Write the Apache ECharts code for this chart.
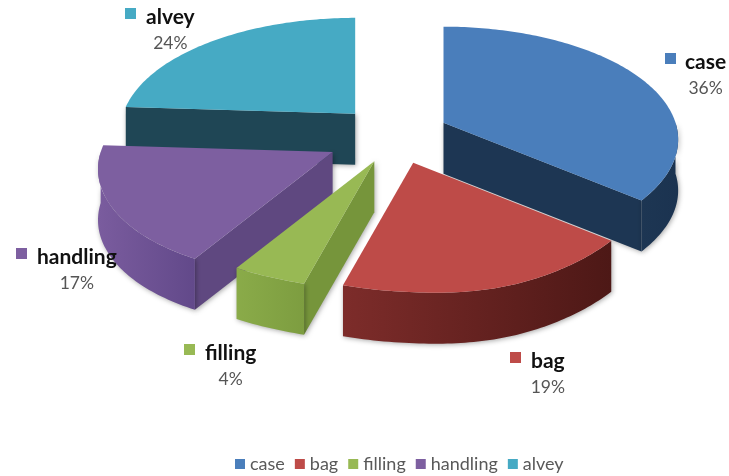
<!DOCTYPE html>
<html><head><meta charset="utf-8">
<style>html,body{margin:0;padding:0;background:#fff}#c{width:729px;height:476px}</style>
<script src="https://cdn.jsdelivr.net/npm/echarts@6/dist/echarts.min.js"></script>
</head><body><div id="c"></div>
<script>
const categories = ['case','bag','filling','handling','alvey'];
const percents = [36,19,4,17,24];
const topColors = ['#4a7ebb','#be4b48','#98b954','#7d5fa0','#46aac4'];
const sideColors = ['#1d3653','#5a1d1b','#76953b','#5f4880','#1f4655'];
const arcColors = [['#1d3653','#1b3350'],['#7d2c2a','#4d1816'],['#8aab49','#7d9d40'],['#7a5c9e','#62498a'],['#1f4655','#1f4655']];
const paintOrder = [2,5,4,3,1];
const explodeFactor = [1,1,1,1.3,1];
const labelSpots = [[665,53],[510,352],[184,344],[16,248],[125,8]];

const P = {cx:395,cy:135,ex:55,ey:29,skew:3,rx:232,ry:110.4,k:0.15,depth:51,warp:21};
const FONT = 'Lato, "Open Sans", sans-serif';
const total = percents.reduce(function(a,b){return a+b;},0);
const starts = []; percents.reduce(function(a,b,i){starts[i]=a;return a+b;},0);
const measure = document.createElement('canvas').getContext('2d');

function sliceGeom(i){
  const a0 = starts[i]/total*2*Math.PI, a1 = (starts[i]+percents[i])/total*2*Math.PI, m=(a0+a1)/2;
  const f = explodeFactor[i];
  const ax = P.cx + P.ex*f*Math.sin(m) - P.skew*Math.cos(m);
  const ay = P.cy - P.ey*f*Math.cos(m);
  function pt(a){
    const u=Math.sin(a), v=-Math.cos(a), w=1-P.k*v;
    return [ax+P.rx*u/w+(v>0?P.warp*Math.pow(v,9):0), ay+P.ry*v/w];
  }
  return {a0,a1,apex:[ax,ay],pt};
}
function down(p){return [p[0],p[1]+P.depth];}

function renderSlice(i){
  return function(params,api){
    const g = sliceGeom(i), kids=[];
    const shadow = {shadowBlur:5,shadowColor:'rgba(0,0,0,0.35)',shadowOffsetX:1,shadowOffsetY:1};
    [[g.a0,-Math.sin(g.a0)],[g.a1,Math.sin(g.a1)]].forEach(function(e){
      if(e[1]>1e-6){
        const p=g.pt(e[0]);
        kids.push({type:'polygon',shape:{points:[g.apex,p,down(p),down(g.apex)]},
          style:Object.assign({fill:sideColors[i]},shadow)});
      }
    });
    const lo=Math.max(g.a0,Math.PI/2), hi=Math.min(g.a1,Math.PI*1.5);
    if(hi>lo){
      const upper=[],lower=[],n=Math.ceil((hi-lo)/(Math.PI/180));
      for(let s=0;s<=n;s++){const p=g.pt(lo+(hi-lo)*s/n);upper.push(p);lower.unshift(down(p));}
      const cols=arcColors[i];
      kids.push({type:'polygon',shape:{points:upper.concat(lower)},
        style:Object.assign({fill:new echarts.graphic.LinearGradient(0,0,1,0,[{offset:0,color:cols[0]},{offset:1,color:cols[1]}])},shadow)});
    }
    const top=[g.apex],N=Math.ceil((g.a1-g.a0)/(Math.PI/180));
    for(let s=0;s<=N;s++) top.push(g.pt(g.a0+(g.a1-g.a0)*s/N));
    kids.push({type:'polygon',shape:{points:top},style:{fill:topColors[i]}});
    const L=labelSpots[i];
    measure.font='bold 21px Lato';
    const nameW=measure.measureText(categories[i]).width;
    const textX=L[0]+(i===0?20:21);
    kids.push({type:'rect',shape:{x:L[0],y:L[1],width:11,height:11},style:{fill:topColors[i]}});
    kids.push({type:'text',style:{x:textX,y:L[1]+9,text:categories[i],fontFamily:FONT,fontSize:21,fontWeight:'bold',fill:'#111',align:'left',verticalAlign:'middle'}});
    kids.push({type:'text',style:{x:textX+nameW/2,y:L[1]+35,text:percents[i]+'%',fontFamily:FONT,fontSize:17.5,fill:'#555',align:'center',verticalAlign:'middle'}});
    return {type:'group',children:kids};
  };
}

const chart = echarts.init(document.getElementById('c'),null,{renderer:'canvas'});
chart.setOption({
  animation:false,
  backgroundColor:'#ffffff',
  color:topColors,
  legend:{data:categories,left:230,top:450,itemWidth:10,itemHeight:10,itemGap:10,icon:'rect',
    textStyle:{fontFamily:FONT,fontSize:18,color:'#595959'}},
  series:categories.map(function(name,i){
    return {type:'custom',name:name,coordinateSystem:'none',silent:true,z:paintOrder[i],
      itemStyle:{color:topColors[i]},data:[[percents[i]]],renderItem:renderSlice(i)};
  })
});
</script></body></html>
